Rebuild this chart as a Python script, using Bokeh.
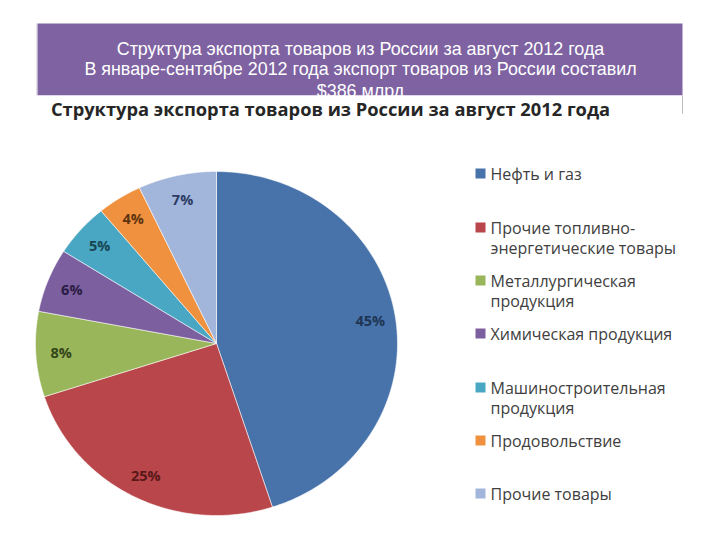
import numpy as np
from bokeh.plotting import figure
from bokeh.models import ColumnDataSource
from bokeh.core.properties import value
from bokeh.embed import file_html
from bokeh.resources import INLINE

# ---- data ----
categories = ["Нефть и газ", "Прочие топливно-\nэнергетические  товары",
              "Металлургическая\nпродукция", "Химическая продукция",
              "Машиностроительная\nпродукция", "Продовольствие", "Прочие товары"]
shares = [45, 25, 8, 6, 5, 4, 7]
labels = ["45%", "25%", "8%", "6%", "5%", "4%", "7%"]
colors = ["#4873AA", "#B8464A", "#99B65A", "#7C5F9E", "#49A7C3", "#F0913F", "#A2B5DA"]
label_colors = ["#1E3554", "#5A1818", "#34451A", "#2A1C44", "#174552", "#5E3410", "#2C3C64"]
header_lines = ["Структура экспорта товаров из России за август 2012 года",
                "В январе-сентябре 2012 года экспорт товаров из России составил",
                "$386 млрд"]
chart_title = "Структура экспорта товаров из России за август 2012 года"

p = figure(width=720, height=540, x_range=(0, 720), y_range=(540, 0),
           min_border=0, toolbar_location=None, output_backend="svg")
p.axis.visible = False
p.grid.visible = False
p.outline_line_color = None
p.background_fill_color = "white"

# ---- header box ----
p.quad(left=[37], right=[682], top=[23], bottom=[95], fill_color="#7E62A1", line_color=None)
p.text(x=[360] * 3, y=[48, 68, 90], text=header_lines, text_color="white",
       text_font=value("Liberation Sans"), text_font_size="17.9px",
       text_align="center", text_baseline="middle")
# chart image area (covers overflowing header text)
p.quad(left=[37], right=[682], top=[95], bottom=[528], fill_color="white", line_color=None)
p.segment(x0=[682], y0=[95], x1=[682], y1=[113], line_color="#BBBBBB", line_width=1)
p.segment(x0=[36], y0=[23], x1=[36], y1=[95], line_color="#E0E0E0", line_width=1)

# ---- chart title ----
p.text(x=[330], y=[108], text=[chart_title], text_color="#262626",
       text_font=value("Open Sans"), text_font_style="bold", text_font_size="18.3px",
       text_align="center", text_baseline="middle")

# ---- pie (elliptical, from data) ----
cx, cy, rx, ry = 216, 343, 181, 172
fr = np.array(shares, dtype=float) / sum(shares)
ends = np.cumsum(fr)
starts = ends - fr
xs, ys = [], []
for s, e in zip(starts, ends):
    t = np.linspace(s, e, 120)
    ang = np.pi / 2 - 2 * np.pi * t
    xs.append(np.concatenate([[cx], cx + rx * np.cos(ang), [cx]]))
    ys.append(np.concatenate([[cy], cy - ry * np.sin(ang), [cy]]))
p.patches(xs=xs, ys=ys, fill_color=colors, line_color="white", line_width=0.8, line_alpha=0.7)

mid = np.pi / 2 - 2 * np.pi * (starts + ends) / 2
k = 0.86
lx = cx + k * rx * np.cos(mid)
ly = cy - k * ry * np.sin(mid)
p.text(x=lx, y=ly, text=labels, text_color=label_colors,
       text_font=value("Open Sans"), text_font_style="bold", text_font_size="14.5px",
       text_align="center", text_baseline="middle")

# ---- legend ----
leg_y = [173, 227, 280, 333, 387, 440, 493]
src = ColumnDataSource(dict(x=[480] * 7, y=leg_y, c=colors, t=categories,
                            tx=[490] * 7, ty=[yy - 11 for yy in leg_y]))
p.scatter(x="x", y="y", marker="square", size=10, fill_color="c", line_color=None, source=src)
p.text(x="tx", y="ty", text="t", source=src, text_color="#404040",
       text_font=value("Open Sans"), text_font_size="16px", text_line_height=0.95,
       text_align="left", text_baseline="top")

open("out.html", "w").write(file_html(p, INLINE))
